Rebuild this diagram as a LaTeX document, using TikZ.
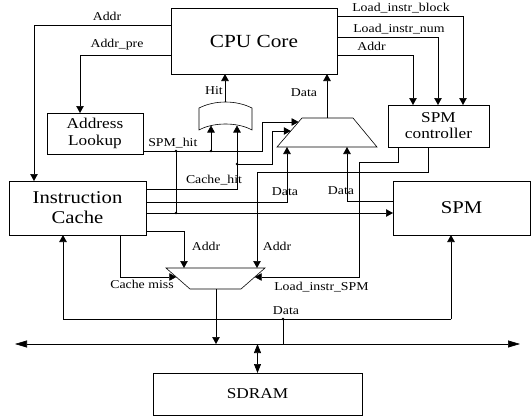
\documentclass[tikz,border=0pt]{standalone}
\usepackage{fontspec}
\setmainfont{Liberation Serif}[FakeStretch=1.15]
\usetikzlibrary{arrows.meta}
\tikzset{
  box/.style={draw, outer sep=0pt, inner sep=0pt, align=center},
  lab/.style={font=\fontsize{12}{12}\selectfont, inner sep=0pt},
  arr/.style={-{Triangle[length=7pt,width=7.5pt]}},
  busarr/.style={{Triangle[length=12pt,width=7pt]}-{Triangle[length=12pt,width=7pt]}},
  dblarr/.style={{Triangle[length=9pt,width=7pt]}-{Triangle[length=9pt,width=7pt]}},
}
\begin{document}
\begin{tikzpicture}[x=1pt,y=-1pt,line width=0.6pt]
\useasboundingbox (0,0) rectangle (531,416);

\node[box, minimum width=166pt, minimum height=66pt, font=\fontsize{18.5}{20}\selectfont] (cpu) at (254,41) {CPU Core};
\node[box, minimum width=96pt, minimum height=41pt, font=\fontsize{15}{17}\selectfont] (look) at (95,133.5) {Address\\Lookup};
\node[box, minimum width=101pt, minimum height=42pt, font=\fontsize{15}{16}\selectfont] (ctrl) at (438.5,126) {SPM\\controller};
\node[box, minimum width=137pt, minimum height=54pt, font=\fontsize{18}{20}\selectfont] (icache) at (77.5,208) {Instruction\\Cache};
\node[box, minimum width=137pt, minimum height=54pt, font=\fontsize{18}{20}\selectfont] (spm) at (461.5,208) {SPM};
\node[box, minimum width=209pt, minimum height=42pt, font=\fontsize{15}{17}\selectfont] (sdram) at (257.5,394) {SDRAM};

\draw (199,130) -- (199,108) .. controls (215,100) and (236,100) .. (252,108) -- (252,130) .. controls (238,122) and (213,122) .. cycle;
\coordinate (orout) at (225,102);
\coordinate (orin1) at (211,125.5);
\coordinate (orin2) at (237,125.5);

\draw (277,147) -- (302,118) -- (353,118) -- (377,147) -- cycle;
\coordinate (mAout) at (327,118);
\coordinate (mAin1) at (298.6,122);
\coordinate (mAin2) at (290.8,131);
\coordinate (mAb1) at (287,147);
\coordinate (mAb2) at (347,147);

\draw (166,268) -- (265,268) -- (241,289) -- (190,289) -- cycle;
\coordinate (mBt1) at (184,268);
\coordinate (mBt2) at (257,268);
\coordinate (mBl) at (176.3,277);
\coordinate (mBr) at (254.7,277);
\coordinate (mBout) at (216,289);

\coordinate (busL) at (15,344);
\coordinate (busR) at (520,344);
\draw[busarr] (busL) -- (busR);

\coordinate (addrL) at (34,25);
\draw[arr] (cpu.west |- addrL) -| (addrL |- icache.north);
\node[lab] (taddr) at (107,16) {Addr};

\coordinate (preL) at (80,55);
\draw[arr] (cpu.west |- preL) -| (preL |- look.north);
\node[lab] (tpre) at (117,45) {Addr\_pre};

\foreach \y/\x/\lx/\lab [count=\i] in {16/463/352/Load\_instr\_block, 37/438/353/Load\_instr\_num, 55/413/357/Addr}
{
  \coordinate (c\i) at (\x,\y);
  \draw[arr] (cpu.east |- c\i) -| (c\i |- ctrl.north);
  \node[lab, anchor=base west] (tc\i) at (\lx,\y-4.5) {\lab};
}

\draw[arr] (orout) -- (orout |- cpu.south);
\node[lab, anchor=east] (thit) at (223,91) {Hit};
\draw[arr] (mAout) -- (mAout |- cpu.south);
\node[lab] (tdata1) at (304,93) {Data};

\coordinate (jS) at (176,151);
\coordinate (jO) at (211,151);
\coordinate (bendA) at (262,122);
\draw[arr] (look.east |- jS) -| (bendA) -- (mAin1);
\draw[arr] (jO) -- (orin1);
\node[lab, anchor=base west] (tspmhit) at (148,146) {SPM\_hit};

\coordinate (ch) at (237,189);
\coordinate (jC) at (237,164);
\coordinate (bendB) at (272,131);
\draw[arr] (icache.east |- ch) -| (orin2);
\draw[arr] (jC) -| (bendB) -- (mAin2);
\node[lab, anchor=base] (tcachehit) at (214,183) {Cache\_hit};

\coordinate (jD) at (176,213);
\draw[arr] (icache.east |- jD) -- (spm.west |- jD);
\draw (jS) -- (jD);
\coordinate (d1) at (287,202);
\draw[arr] (icache.east |- d1) -| (mAb1);
\node[lab] (tdata2) at (285,192) {Data};
\coordinate (d2) at (347,201);
\draw[arr] (spm.west |- d2) -| (mAb2);
\node[lab] (tdata3) at (341,191) {Data};

\coordinate (k1) at (398,162);
\coordinate (k2) at (359,162);
\draw[arr] (k1 |- ctrl.south) -- (k1) -- (k2) |- (mBr);
\node[lab, anchor=base west] (tload) at (274,290) {Load\_instr\_SPM};
\coordinate (k3) at (428,172);
\draw[arr] (k3 |- ctrl.south) -- (k3) -| (mBt2);
\node[lab] (taddr3) at (277,246) {Addr};

\coordinate (a1) at (184,231);
\draw[arr] (icache.east |- a1) -| (mBt1);
\node[lab] (taddr2) at (206,246) {Addr};

\coordinate (cm) at (120,277);
\draw[arr] (cm |- icache.south) -- (cm) -- (mBl);
\node[lab] (tmiss) at (142,284) {Cache miss};

\draw[arr] (mBout) -- (mBout |- busL);

\coordinate (r0) at (283,319);
\coordinate (rL) at (63,319);
\coordinate (rR) at (451,319);
\draw (r0 |- busL) -- (r0);
\draw[arr] (rR) -| (rL |- icache.south);
\draw[arr] (rR) -- (rR |- spm.south);
\node[lab] (tdata4) at (286,311) {Data};

\draw[dblarr] (sdram.north |- busL) -- (sdram.north);

\foreach \p in {jS,jO,jC,jD,r0}
  \fill (\p) circle (1.3pt);
\end{tikzpicture}
\end{document}
